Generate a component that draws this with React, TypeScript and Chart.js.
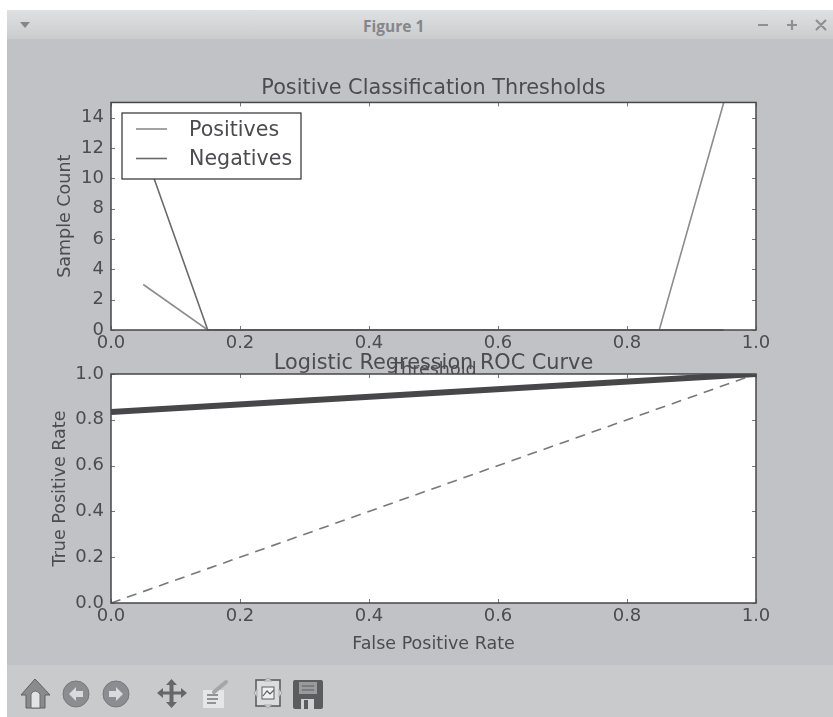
import React, { useEffect, useRef } from "react";
import { Chart, registerables } from "chart.js";

Chart.register(...registerables);

const thresholds = [0.05, 0.15, 0.25, 0.35, 0.45, 0.55, 0.65, 0.75, 0.85, 0.95];
const positives = [3, 0, 0, 0, 0, 0, 0, 0, 0, 15];
const negatives = [12, 0, 0, 0, 0, 0, 0, 0, 0, 0];
const fpr = [0, 1];
const tpr = [0.834, 1];
const chanceX = [0, 1];
const chanceY = [0, 1];
const countTicks = [0, 2, 4, 6, 8, 10, 12, 14];
const rateTicks = [0, 0.2, 0.4, 0.6, 0.8, 1];

const TEXT = "#4c4c50";
const FRAME = "#47474a";
const FONT = "'DejaVu Sans'";

const zip = (xs: number[], ys: number[]) => xs.map((x, i) => ({ x, y: ys[i] }));

const framePlugin = {
  id: "frame",
  beforeDatasetsDraw(chart: any) {
    const { ctx, chartArea: a } = chart;
    ctx.save();
    ctx.fillStyle = "#ffffff";
    ctx.fillRect(a.left, a.top, a.right - a.left, a.bottom - a.top);
    ctx.restore();
  },
  afterDatasetsDraw(chart: any) {
    const { ctx, chartArea: a, scales } = chart;
    ctx.save();
    ctx.strokeStyle = "#77787b";
    ctx.lineWidth = 1;
    ctx.beginPath();
    for (const t of scales.x.ticks) {
      const p = Math.round(scales.x.getPixelForValue(t.value)) + 0.5;
      ctx.moveTo(p, a.top);
      ctx.lineTo(p, a.top + 4);
      ctx.moveTo(p, a.bottom);
      ctx.lineTo(p, a.bottom - 4);
    }
    for (const t of scales.y.ticks) {
      const p = Math.round(scales.y.getPixelForValue(t.value)) + 0.5;
      ctx.moveTo(a.left, p);
      ctx.lineTo(a.left + 4, p);
      ctx.moveTo(a.right, p);
      ctx.lineTo(a.right - 4, p);
    }
    ctx.stroke();
    ctx.strokeStyle = FRAME;
    ctx.lineWidth = 1.5;
    ctx.strokeRect(a.left, a.top, a.right - a.left, a.bottom - a.top);
    ctx.restore();
  },
};

const boxedLegend = {
  id: "boxedLegend",
  afterDatasetsDraw(chart: any, _args: any, opts: any) {
    if (!opts.show) return;
    const { ctx } = chart;
    ctx.save();
    ctx.fillStyle = "#ffffff";
    ctx.strokeStyle = "#2f2f32";
    ctx.lineWidth = 1.2;
    ctx.fillRect(122, 113, 179, 66);
    ctx.strokeRect(122, 113, 179, 66);
    ctx.font = `20.6px ${FONT}`;
    ctx.textBaseline = "middle";
    chart.data.datasets.forEach((d: any, i: number) => {
      const y = 129 + i * 29.5;
      ctx.strokeStyle = d.borderColor;
      ctx.lineWidth = d.borderWidth;
      ctx.beginPath();
      ctx.moveTo(136, y);
      ctx.lineTo(167, y);
      ctx.stroke();
      ctx.fillStyle = TEXT;
      ctx.fillText(d.label, 189, y + 1.5);
    });
    ctx.restore();
  },
};

function makeOptions(cfg: {
  title: string;
  titleTop: number;
  titleGap: number;
  xLabel: string;
  yLabel: string;
  yLabelPad: number;
  axisH: number;
  bottom: number;
  yMax: number;
  yTicks: number[];
  yDigits: number;
  legend: boolean;
}) {
  const tick = { color: TEXT, font: { family: FONT, size: 18 } };
  return {
    animation: false as const,
    responsive: false,
    layout: { padding: { left: 0, right: 77, top: 0, bottom: 717 - cfg.bottom - cfg.axisH } },
    plugins: {
      legend: { display: false },
      tooltip: { enabled: false },
      boxedLegend: { show: cfg.legend },
      title: {
        display: true,
        text: cfg.title,
        fullSize: false,
        color: TEXT,
        font: { family: FONT, size: 20.8, weight: "normal" as const },
        padding: { top: cfg.titleTop, bottom: cfg.titleGap },
      },
    },
    elements: { point: { radius: 0 }, line: { tension: 0 } },
    scales: {
      x: {
        type: "linear" as const,
        min: 0,
        max: 1,
        grid: { display: false, drawTicks: false },
        border: { display: false },
        ticks: { ...tick, stepSize: 0.2, padding: 3, maxRotation: 0, autoSkip: false, callback: (v: any) => Number(v).toFixed(1) },
        title: { display: true, text: cfg.xLabel, color: TEXT, font: { family: FONT, size: 17.5 }, padding: 0 },
        afterFit: (s: any) => {
          s.height = cfg.axisH;
        },
      },
      y: {
        type: "linear" as const,
        min: 0,
        max: cfg.yMax,
        afterBuildTicks: (s: any) => {
          s.ticks = cfg.yTicks.map((value) => ({ value }));
        },
        grid: { display: false, drawTicks: false },
        border: { display: false },
        ticks: {
          ...tick,
          padding: 7,
          autoSkip: false,
          callback: (v: any) => Number(v).toFixed(cfg.yDigits),
        },
        title: {
          display: true,
          text: cfg.yLabel,
          color: TEXT,
          font: { family: FONT, size: 17.5 },
          padding: { top: cfg.yLabelPad, bottom: 0 },
        },
        afterFit: (s: any) => {
          s.width = 111;
        },
      },
    },
  };
}

function PlotCanvas({ build }: { build: (c: HTMLCanvasElement) => Chart }) {
  const ref = useRef<HTMLCanvasElement>(null);
  useEffect(() => {
    const chart = build(ref.current!);
    return () => chart.destroy();
  }, [build]);
  return <canvas ref={ref} width={833} height={717} style={{ position: "absolute", left: 0, top: 0 }} />;
}

const bottomBleed = { left: 0, top: 0, right: 0, bottom: 1.5 };

const buildTop = (c: HTMLCanvasElement) =>
  new Chart(c, {
    type: "line",
    plugins: [framePlugin, boxedLegend],
    data: {
      datasets: [
        { label: "Positives", data: zip(thresholds, positives), borderColor: "#8c8c8f", borderWidth: 1.6, clip: bottomBleed },
        { label: "Negatives", data: zip(thresholds, negatives), borderColor: "#6a6a6d", borderWidth: 1.6, clip: bottomBleed },
      ],
    },
    options: makeOptions({
      title: "Positive Classification Thresholds",
      titleTop: 76,
      titleGap: 1.5,
      xLabel: "Threshold",
      yLabel: "Sample Count",
      yLabelPad: 55,
      axisH: 50.5,
      bottom: 330,
      yMax: 15,
      yTicks: countTicks,
      yDigits: 0,
      legend: true,
    }) as any,
  });

const buildBottom = (c: HTMLCanvasElement) =>
  new Chart(c, {
    type: "line",
    plugins: [framePlugin, boxedLegend],
    data: {
      datasets: [
        { label: "ROC", data: zip(fpr, tpr), borderColor: "#47474a", borderWidth: 6 },
        { label: "Chance", data: zip(chanceX, chanceY), borderColor: "#77787b", borderWidth: 1.6, borderDash: [10, 7] },
      ],
    },
    options: makeOptions({
      title: "Logistic Regression ROC Curve",
      titleTop: 351.5,
      titleGap: -2.46,
      xLabel: "False Positive Rate",
      yLabel: "True Positive Rate",
      yLabelPad: 50,
      axisH: 51.5,
      bottom: 603,
      yMax: 1,
      yTicks: rateTicks,
      yDigits: 1,
      legend: false,
    }) as any,
  });

const Toolbar = () => (
  <svg width={833} height={52} style={{ position: "absolute", left: 0, top: 665 }}>
    <g transform="translate(0,-665)">
      <path d="M21 695 L35 679 L50 695 L45 695 L45 708 L26 708 L26 695 Z" fill="#8a8b8d" stroke="#5e5f62" strokeWidth={1} />
      <path d="M31 708 V694 Q35 688 40 694 V708 Z" fill="#e2e3e4" stroke="#6c6d70" />
      <circle cx={76} cy={694} r={13} fill="#8c8d90" stroke="#77787b" />
      <path d="M69 694 L76 687 V691 H83 V697 H76 V701 Z" fill="#d9dadb" />
      <circle cx={116} cy={694} r={13} fill="#8c8d90" stroke="#77787b" />
      <path d="M123 694 L116 687 V691 H109 V697 H116 V701 Z" fill="#d9dadb" />
      <path d="M157 693 L163 688 V691.5 H169.5 V685 H166 L171.5 679 L177 685 H173.5 V691.5 H181 V688 L187 693 L181 698 V694.5 H173.5 V702 H177 L171.5 708 L166 702 H169.5 V694.5 H163 V698 Z" fill="#66676a" />
      <rect x={203} y={690} width={21} height={18} fill="#e6e6e7" />
      <path d="M207 695 H218 M207 699 H218 M207 703 H216" stroke="#77787b" strokeWidth={1.4} />
      <path d="M214 692 L226 682" stroke="#a5a6a8" strokeWidth={4} strokeLinecap="round" />
      <rect x={256} y={680} width={24} height={26} fill="#dcdcde" stroke="#5d5e61" strokeWidth={1.6} />
      <rect x={262} y={687} width={12} height={12} fill="#f0f0f1" stroke="#5d5e61" />
      <path d="M263 696 L267 691 L270 694 L274 690" fill="none" stroke="#5d5e61" strokeWidth={1.2} />
      <path d="M268 678 L272 681 H264 Z M268 708 L272 705 H264 Z M254 693 L257 689 V697 Z M282 693 L279 689 V697 Z" fill="#d3d4d5" stroke="#8c8d90" strokeWidth={0.6} />
      <rect x={293} y={680} width={30} height={29} rx={2} fill="#5b5c5f" />
      <rect x={299} y={682} width={18} height={12} fill="#9a9b9d" />
      <path d="M302 686 H314 M302 690 H314" stroke="#5b5c5f" strokeWidth={1.2} />
      <rect x={301} y={699} width={13} height={10} fill="#d0d1d2" />
      <rect x={304} y={700} width={4} height={9} fill="#5b5c5f" />
    </g>
  </svg>
);

export default function App() {
  return (
    <div style={{ position: "fixed", left: 0, top: 0, width: 833, height: 717, background: "#ffffff", overflow: "hidden", filter: "blur(0.4px)" }}>
      <div style={{ position: "absolute", left: 7, top: 10, width: 826, height: 707, background: "#c1c2c5" }} />
      <div
        style={{
          position: "absolute",
          left: 7,
          top: 10,
          width: 826,
          height: 29,
          background: "linear-gradient(#dfe0e1, #cbccce)",
        }}
      />
      <div
        style={{
          position: "absolute",
          left: 363,
          top: 10,
          color: "#85868a",
          fontFamily: "'Open Sans'",
          fontWeight: 700,
          fontSize: 15.5,
          lineHeight: "33px",
          whiteSpace: "nowrap",
        }}
      >
        Figure 1
      </div>
      <svg width={833} height={40} style={{ position: "absolute", left: 0, top: 0 }}>
        <path d="M20 22 H30 L25 28 Z" fill="#85868a" />
        <path d="M758 25 H768 M787 25 H797 M792 20 V30 M816 20 L826 30 M826 20 L816 30" stroke="#8f9093" strokeWidth={2.2} />
      </svg>
      <div style={{ position: "absolute", left: 7, top: 665, width: 826, height: 52, background: "#c9cacc" }} />
      <Toolbar />
      <PlotCanvas build={buildTop} />
      <PlotCanvas build={buildBottom} />
    </div>
  );
}
